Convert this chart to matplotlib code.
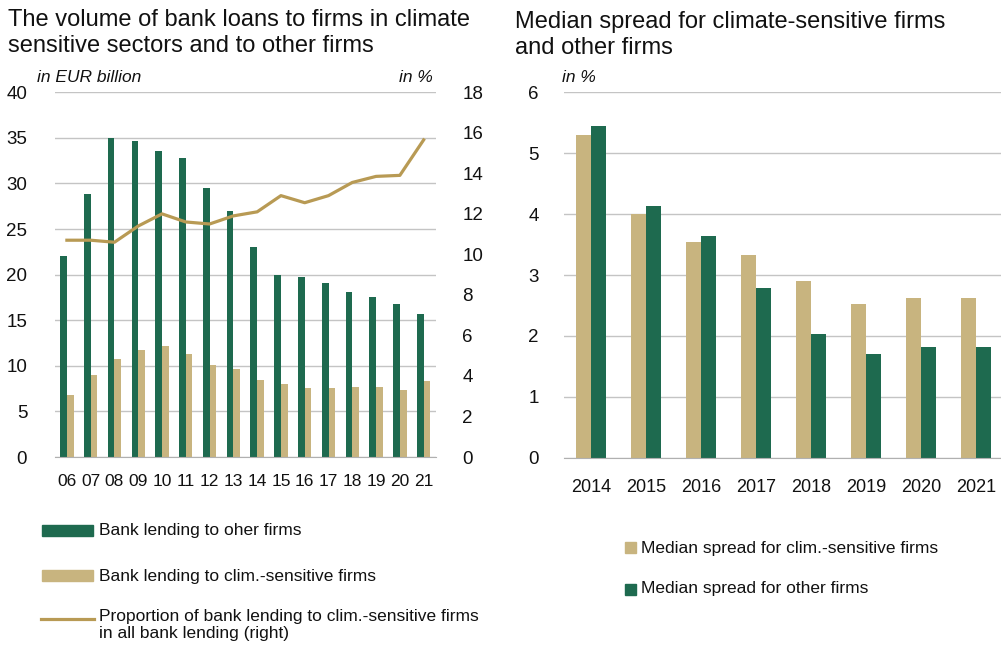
import matplotlib
matplotlib.use("Agg")
import matplotlib.pyplot as plt
import numpy as np
from matplotlib.patches import Rectangle
from matplotlib.lines import Line2D

# ---- data ----
years_left = ["06", "07", "08", "09", "10", "11", "12", "13", "14", "15", "16", "17", "18", "19", "20", "21"]
lending_other = [22.0, 28.8, 35.0, 34.7, 33.6, 32.8, 29.5, 27.0, 23.0, 20.0, 19.7, 19.1, 18.1, 17.5, 16.8, 15.7]
lending_clim = [6.8, 9.0, 10.8, 11.7, 12.2, 11.3, 10.1, 9.7, 8.4, 8.0, 7.6, 7.6, 7.7, 7.7, 7.4, 8.3]
proportion_clim = [10.7, 10.7, 10.6, 11.4, 12.0, 11.6, 11.5, 11.9, 12.1, 12.9, 12.55, 12.9, 13.55, 13.85, 13.9, 15.65]

years_right = ["2014", "2015", "2016", "2017", "2018", "2019", "2020", "2021"]
spread_clim = [5.30, 4.00, 3.55, 3.33, 2.90, 2.52, 2.63, 2.62]
spread_other = [5.44, 4.14, 3.64, 2.79, 2.03, 1.71, 1.81, 1.82]

left_ticks = [0, 5, 10, 15, 20, 25, 30, 35, 40]
right_ticks = [0, 2, 4, 6, 8, 10, 12, 14, 16, 18]
spread_ticks = [0, 1, 2, 3, 4, 5, 6]

title_left = "The volume of bank loans to firms in climate\nsensitive sectors and to other firms"
title_right = "Median spread for climate-sensitive firms\nand other firms"
legend_left = ["Bank lending to oher firms", "Bank lending to clim.-sensitive firms",
               "Proportion of bank lending to clim.-sensitive firms\nin all bank lending (right)"]
legend_right = ["Median spread for clim.-sensitive firms", "Median spread for other firms"]

# ---- style ----
GREEN = "#1e6a4f"
TAN = "#c8b47f"
GOLD = "#b89a54"
GRID = "#c4c4c4"
TXT = "#111111"
plt.rcParams["font.family"] = ["Liberation Sans", "DejaVu Sans"]

W, H = 1001, 653
fig = plt.figure(figsize=(W / 100, H / 100), dpi=100)

def fx(px):
    return px / W

def fy(py):
    return 1 - py / H

# ---- left chart ----
axL = fig.add_axes([fx(55), fy(457), fx(436 - 55), (457 - 92.3) / H])
x = np.arange(len(years_left))
bw = 0.28
axL.bar(x - bw / 2, lending_other, width=bw, color=GREEN, zorder=2)
axL.bar(x + bw / 2, lending_clim, width=bw, color=TAN, zorder=2)
axL.set_xlim(-0.5, 15.52)
axL.set_ylim(0, 40)
axL.set_yticks(left_ticks)
axL.set_xticks(x)
axL.set_xticklabels(years_left)
axL.grid(axis="y", color=GRID, linewidth=1.0, zorder=0)
axL.set_axisbelow(True)
for s in ["top", "right", "left"]:
    axL.spines[s].set_visible(False)
axL.spines["bottom"].set_color("#b0b0b0")
axL.tick_params(axis="both", length=0, labelsize=13.5, colors=TXT)
axL.tick_params(axis="y", pad=20)
axL.tick_params(axis="x", pad=12, labelsize=12.5)

axR = axL.twinx()
axR.plot(x, proportion_clim, color=GOLD, linewidth=2.3, zorder=3)
axR.set_ylim(0, 18)
axR.set_yticks(right_ticks)
for s in ["top", "right", "left", "bottom"]:
    axR.spines[s].set_visible(False)
axR.tick_params(axis="y", length=0, labelsize=13.5, colors=TXT, pad=19)

fig.text(fx(8), fy(9), title_left, fontsize=17, color=TXT, va="top", ha="left", linespacing=1.22)
fig.text(fx(37), fy(78), "in EUR billion", fontsize=12.5, style="italic", color=TXT,
         va="center", ha="left")
fig.text(fx(433), fy(78), "in %", fontsize=12.5, style="italic", color=TXT,
         va="center", ha="right")

# left legend
fig.patches.append(Rectangle((fx(42), fy(536)), fx(51), 11 / H, color=GREEN, transform=fig.transFigure))
fig.patches.append(Rectangle((fx(42), fy(581)), fx(51), 11 / H, color=TAN, transform=fig.transFigure))
fig.lines.append(Line2D([fx(41), fx(94)], [fy(619), fy(619)], color=GOLD, linewidth=2.3,
                        transform=fig.transFigure))
fig.text(fx(99), fy(530), legend_left[0], fontsize=12.5, color=TXT, va="center", ha="left")
fig.text(fx(99), fy(576), legend_left[1], fontsize=12.5, color=TXT, va="center", ha="left")
fig.text(fx(99), fy(609), legend_left[2], fontsize=12.5, color=TXT, va="top", ha="left",
         linespacing=1.15)

# ---- right chart ----
ax2 = fig.add_axes([fx(563.7), fy(457.7), 1 - fx(563.7), (457.7 - 92.3) / H])
x2 = np.arange(len(years_right))
bw2 = 0.273
ax2.bar(x2 - bw2 / 2, spread_clim, width=bw2, color=TAN, zorder=2)
ax2.bar(x2 + bw2 / 2, spread_other, width=bw2, color=GREEN, zorder=2)
ax2.set_xlim(-0.5, 7.45)
ax2.set_ylim(0, 6)
ax2.set_yticks(spread_ticks)
ax2.set_xticks(x2)
ax2.set_xticklabels(years_right)
ax2.grid(axis="y", color=GRID, linewidth=1.0, zorder=0)
ax2.set_axisbelow(True)
for s in ["top", "right", "left"]:
    ax2.spines[s].set_visible(False)
ax2.spines["bottom"].set_color("#b0b0b0")
ax2.tick_params(axis="both", length=0, labelsize=13.5, colors=TXT)
ax2.tick_params(axis="y", pad=18)
ax2.tick_params(axis="x", pad=15, labelsize=13)

fig.text(fx(515), fy(11), title_right, fontsize=17, color=TXT, va="top", ha="left", linespacing=1.22)
fig.text(fx(562), fy(78), "in %", fontsize=12.5, style="italic", color=TXT,
         va="center", ha="left")

fig.patches.append(Rectangle((fx(625), fy(553)), fx(11), 11 / H, color=TAN, transform=fig.transFigure))
fig.patches.append(Rectangle((fx(625), fy(595)), fx(11), 11 / H, color=GREEN, transform=fig.transFigure))
fig.text(fx(641), fy(548), legend_right[0], fontsize=12.5, color=TXT, va="center", ha="left")
fig.text(fx(641), fy(589), legend_right[1], fontsize=12.5, color=TXT, va="center", ha="left")

fig.savefig("out.png", dpi=100, facecolor="white")
